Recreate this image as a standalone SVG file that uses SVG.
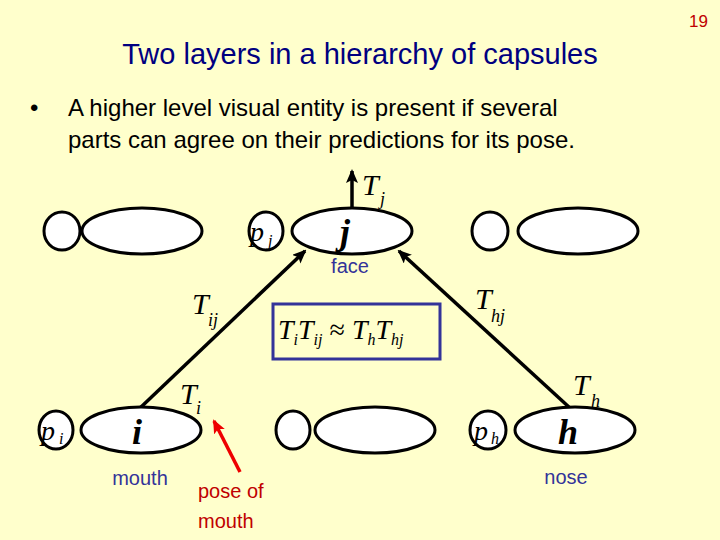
<svg xmlns="http://www.w3.org/2000/svg" width="720" height="540" viewBox="0 0 720 540">
<style>
.e{fill:#fff;stroke:#000;stroke-width:3}
.m{font-family:"Liberation Serif",serif;font-style:italic;fill:#000}
.s{font-family:"Liberation Sans",sans-serif}
.c{stroke:#000;stroke-width:3.5;fill:none}
</style>
<defs>
<marker id="a" markerWidth="14" markerHeight="12" refX="12" refY="6" orient="auto" markerUnits="userSpaceOnUse"><path d="M0,0L14,6L0,12L3,6z" fill="#000"/></marker>
<marker id="r" markerWidth="14" markerHeight="12" refX="12" refY="6" orient="auto" markerUnits="userSpaceOnUse"><path d="M0,0L14,6L0,12L3,6z" fill="#e00"/></marker>
</defs>
<rect width="720" height="540" fill="#ffffcc"/>
<text x="708" y="27" class="s" font-size="17" fill="#c00000" text-anchor="end">19</text>
<text x="360" y="64" class="s" font-size="29" fill="#000080" text-anchor="middle">Two layers in a hierarchy of capsules</text>
<text x="30" y="116" class="s" font-size="24">•</text>
<text x="68" y="116" class="s" font-size="24">A higher level visual entity is present if several</text>
<text x="68" y="148" class="s" font-size="24">parts can agree on their predictions for its pose.</text>
<g id="connectors">
<line x1="140" y1="408" x2="305" y2="251" class="c" marker-end="url(#a)"/>
<line x1="570" y1="408" x2="399" y2="251" class="c" marker-end="url(#a)"/>
<line x1="352" y1="209" x2="352" y2="171" class="c" stroke-width="3" marker-end="url(#a)"/>
<line x1="240" y1="472" x2="214" y2="421" stroke="#e00" stroke-width="3.5" marker-end="url(#r)"/>
</g>
<g id="top-left"><ellipse cx="62" cy="231" rx="18" ry="19" class="e"/><ellipse cx="142" cy="231" rx="60" ry="23" class="e"/></g>
<g id="node-j"><ellipse cx="266" cy="231" rx="17" ry="19" class="e"/><ellipse cx="352" cy="231" rx="60" ry="23" class="e"/>
<text x="250" y="241" class="m" font-size="28">p</text><text x="268" y="246" class="m" font-size="16">j</text>
<text x="340" y="244" class="m" font-size="36" font-weight="bold">j</text>
<text x="362" y="195" class="m" font-size="30">T</text><text x="380" y="205" class="m" font-size="18">j</text>
<text x="350" y="273" class="s" font-size="20" fill="#333399" text-anchor="middle">face</text></g>
<g id="top-right"><ellipse cx="490" cy="231" rx="18" ry="19" class="e"/><ellipse cx="578" cy="231" rx="60" ry="23" class="e"/></g>
<g id="node-i"><ellipse cx="56" cy="430" rx="17" ry="19" class="e"/><ellipse cx="141" cy="430" rx="60" ry="23" class="e"/>
<text x="41" y="440" class="m" font-size="28">p</text><text x="59" y="444" class="m" font-size="16">i</text>
<text x="132" y="444" class="m" font-size="36" font-weight="bold">i</text>
<text x="180" y="404" class="m" font-size="30">T</text><text x="196" y="414" class="m" font-size="18">i</text>
<text x="140" y="485" class="s" font-size="20" fill="#333399" text-anchor="middle">mouth</text></g>
<g id="bottom-mid"><ellipse cx="293" cy="430" rx="17" ry="19" class="e"/><ellipse cx="375" cy="430" rx="60" ry="23" class="e"/></g>
<g id="node-h"><ellipse cx="488" cy="430" rx="18" ry="19" class="e"/><ellipse cx="575" cy="430" rx="60" ry="23" class="e"/>
<text x="474" y="440" class="m" font-size="28">p</text><text x="491" y="444" class="m" font-size="16">h</text>
<text x="558" y="444" class="m" font-size="36" font-weight="bold">h</text>
<text x="573" y="395" class="m" font-size="30">T</text><text x="591" y="407" class="m" font-size="18">h</text>
<text x="566" y="484" class="s" font-size="20" fill="#333399" text-anchor="middle">nose</text></g>
<g id="labels">
<text x="192" y="314" class="m" font-size="30">T</text><text x="208" y="326" class="m" font-size="18">ij</text>
<text x="475" y="309" class="m" font-size="30">T</text><text x="491" y="322" class="m" font-size="18">hj</text>
<text x="198" y="498" class="s" font-size="20" fill="#c00000">pose of</text>
<text x="198" y="528" class="s" font-size="20" fill="#c00000">mouth</text>
</g>
<g id="equation"><rect x="273" y="304" width="167" height="55" fill="none" stroke="#333399" stroke-width="3"/>
<text x="278" y="339" class="m" font-size="28">T<tspan font-size="16" dy="6">i</tspan><tspan dy="-6">T</tspan><tspan font-size="16" dy="6">ij</tspan><tspan dy="-6" font-style="normal"> ≈ </tspan><tspan>T</tspan><tspan font-size="16" dy="6">h</tspan><tspan dy="-6">T</tspan><tspan font-size="16" dy="6">hj</tspan></text></g>
</svg>
